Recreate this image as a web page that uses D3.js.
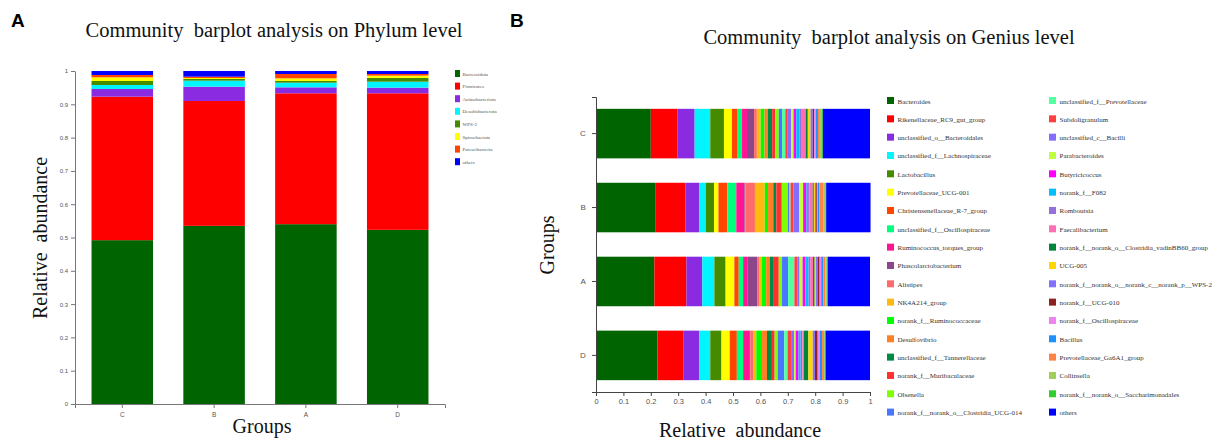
<!DOCTYPE html>
<meta charset="utf-8">
<style>
    body { margin: 0; background: #fff; }
    svg text { fill: #333; white-space: pre; }
    .serif { font-family: "Liberation Serif", "Times New Roman", serif; }
    .tick text { font-family: "Liberation Sans", Arial, sans-serif; fill: #555; }
</style>
<body>
<svg id="chart" width="1224" height="441"></svg>

<script src="https://cdn.jsdelivr.net/npm/d3@7/dist/d3.min.js"></script>
<script>
    // ---- panel A: phylum level ----
    var phylumGroups = ["C", "B", "A", "D"];
    var phylumNames = ["Bacteroidota", "Firmicutes", "Actinobacteriota", "Desulfobacterota",
        "WPS-2", "Spirochaetota", "Patescibacteria", "others"];
    var phylumC = [0.492, 0.431, 0.023, 0.012, 0.012, 0.011, 0.007, 0.012];
    var phylumB = [0.535, 0.375, 0.043, 0.018, 0.005, 0.003, 0.004, 0.017];
    var phylumA = [0.540, 0.393, 0.018, 0.014, 0.005, 0.008, 0.013, 0.009];
    var phylumD = [0.523, 0.410, 0.017, 0.018, 0.011, 0.007, 0.005, 0.009];
    var phylumColors = ["#006400", "#ff0000", "#8a2be2", "#00f5ff", "#458b00", "#ffff00", "#ff4500", "#0000ff"];

    // ---- panel B: genus level ----
    var genusGroups = ["C", "B", "A", "D"];
    var genusNames = [
        "Bacteroides", "Rikenellaceae_RC9_gut_group", "unclassified_o__Bacteroidales",
        "unclassified_f__Lachnospiraceae", "Lactobacillus", "Prevotellaceae_UCG-001",
        "Christensenellaceae_R-7_group", "unclassified_f__Oscillospiraceae", "Ruminococcus_torques_group",
        "Phascolarctobacterium", "Alistipes", "NK4A214_group", "norank_f__Ruminococcaceae",
        "Desulfovibrio", "unclassified_f__Tannerellaceae", "norank_f__Muribaculaceae", "Olsenella",
        "norank_f__norank_o__Clostridia_UCG-014",
        "unclassified_f__Prevotellaceae", "Subdoligranulum", "unclassified_c__Bacilli", "Parabacteroides",
        "Butyricicoccus", "norank_f__F082", "Romboutsia", "Faecalibacterium",
        "norank_f__norank_o__Clostridia_vadinBB60_group", "UCG-005",
        "norank_f__norank_o__norank_c__norank_p__WPS-2", "norank_f__UCG-010", "norank_f__Oscillospiraceae",
        "Bacillus", "Prevotellaceae_Ga6A1_group", "Collinsella", "norank_f__norank_o__Saccharimonadales",
        "others"];
    var genusC = [0.200, 0.098, 0.062, 0.057, 0.050, 0.029, 0.021, 0.016, 0.018, 0.026,
        0.010, 0.014, 0.014, 0.012, 0.016, 0.011, 0.013, 0.012,
        0.012, 0.009, 0.012, 0.009, 0.010, 0.012, 0.008, 0.014, 0.008, 0.010,
        0.008, 0.005, 0.007, 0.007, 0.007, 0.006, 0.005, 0.172];
    var genusB = [0.218, 0.108, 0.051, 0.024, 0.030, 0.016, 0.032, 0.033, 0.030, 0.003,
        0.035, 0.036, 0.012, 0.019, 0.011, 0.020, 0.022, 0.006,
        0.004, 0.010, 0.022, 0.014, 0.012, 0.006, 0.005, 0.012, 0.004, 0.004,
        0.003, 0.004, 0.004, 0.005, 0.014, 0.008, 0.003, 0.162];
    var genusA = [0.213, 0.117, 0.058, 0.044, 0.041, 0.032, 0.016, 0.016, 0.017, 0.034,
        0.009, 0.007, 0.017, 0.013, 0.015, 0.018, 0.012, 0.022,
        0.023, 0.012, 0.007, 0.011, 0.010, 0.012, 0.006, 0.010, 0.006, 0.005,
        0.007, 0.006, 0.006, 0.008, 0.007, 0.005, 0.004, 0.154];
    var genusD = [0.224, 0.096, 0.057, 0.040, 0.041, 0.030, 0.026, 0.023, 0.022, 0.004,
        0.012, 0.010, 0.021, 0.018, 0.018, 0.010, 0.011, 0.024,
        0.012, 0.013, 0.011, 0.006, 0.010, 0.008, 0.006, 0.006, 0.016, 0.016,
        0.008, 0.010, 0.008, 0.008, 0.007, 0.003, 0.003, 0.162];
    var genusColors = ["#006400", "#ff0000", "#8a2be2", "#00f5ff", "#458b00", "#ffff00", "#ff4500", "#00ff7f",
        "#ff1493", "#8b4789", "#ff6a6a", "#ffb90f", "#00ff00", "#ff7f24", "#008b45", "#ff3030", "#7fff00",
        "#4876ff", "#54ff9f", "#ff4040", "#836fff", "#c0ff3e", "#ff00ff", "#00bfff", "#9370db", "#ff6eb4",
        "#00843c", "#ffd700", "#8470ff", "#8b2323", "#ee82ee", "#1e90ff", "#ff8247", "#a2cd5a", "#32cd32",
        "#0000ff"];

    function toRows(groups, names, lists) {
        return groups.map(function (g, i) {
            var row = { group: g };
            names.forEach(function (n, j) { row[n] = lists[i][j]; });
            return row;
        });
    }

    var svg = d3.select("#chart");

    // ================= panel A =================
    var rowsA = toRows(phylumGroups, phylumNames, [phylumC, phylumB, phylumA, phylumD]);
    var stackA = d3.stack().keys(phylumNames)(rowsA);
    var colorA = d3.scaleOrdinal().domain(phylumNames).range(phylumColors);

    var xA = d3.scaleBand().domain(phylumGroups).range([75, 445]).paddingInner(0.33).paddingOuter(0.18);
    var yA = d3.scaleLinear().domain([0, 1]).range([404, 71]);

    svg.append("text").attr("x", 11).attr("y", 27)
        .style("font", "bold 19px 'Liberation Sans', Arial, sans-serif").style("fill", "#000").text("A");
    svg.append("text").attr("class", "serif").attr("x", 274).attr("y", 37)
        .attr("text-anchor", "middle").style("font-size", "20.5px").style("fill", "#111")
        .text("Community  barplot analysis on Phylum level");

    svg.append("g").selectAll("g")
        .data(stackA).enter().append("g")
        .attr("fill", function (d) { return colorA(d.key); })
        .selectAll("rect")
        .data(function (d) { return d; })
        .enter().append("rect")
        .attr("x", function (d) { return xA(d.data.group); })
        .attr("width", xA.bandwidth())
        .attr("y", function (d) { return yA(d[1]); })
        .attr("height", function (d) { return yA(d[0]) - yA(d[1]); });

    var yAxisA = svg.append("g").attr("transform", "translate(75,0)")
        .call(d3.axisLeft(yA).tickValues(d3.range(0, 1.01, 0.1)).tickSize(4).tickSizeOuter(0)
            .tickFormat(function (d) { return d === 0 || d === 1 ? d3.format("d")(d) : d3.format(".1f")(d); }));
    yAxisA.selectAll("text").style("font-size", "6px");
    var xAxisA = svg.append("g").attr("transform", "translate(0,404)")
        .call(d3.axisBottom(xA).tickSize(4).tickSizeOuter(4));
    xAxisA.selectAll("text").style("font-size", "6.5px").attr("dy", "0.9em");
    svg.selectAll(".domain, .tick line").attr("stroke", "#777");

    svg.append("text").attr("class", "serif").attr("x", 262).attr("y", 433)
        .attr("text-anchor", "middle").style("font-size", "20px").style("fill", "#111").text("Groups");
    svg.append("text").attr("class", "serif")
        .attr("transform", "translate(47,238) rotate(-90)")
        .attr("text-anchor", "middle").style("font-size", "20px").style("fill", "#111").text("Relative  abundance");

    var legA = svg.append("g").selectAll("g")
        .data(phylumNames).enter().append("g")
        .attr("transform", function (d, i) { return "translate(455," + (70 + i * 12.6) + ")"; });
    legA.append("rect").attr("width", 5).attr("height", 7)
        .attr("fill", function (d) { return colorA(d); });
    legA.append("text").attr("class", "serif").attr("x", 7.5).attr("y", 5.5)
        .style("font-size", "5px").style("fill", "#555").text(function (d) { return d; });

    // ================= panel B =================
    var rowsB = toRows(genusGroups, genusNames, [genusC, genusB, genusA, genusD]);
    var stackB = d3.stack().keys(genusNames)(rowsB);
    var colorB = d3.scaleOrdinal().domain(genusNames).range(genusColors);

    var xB = d3.scaleLinear().domain([0, 1]).range([596, 870]);
    var yB = d3.scaleBand().domain(genusGroups).range([97, 392]).paddingInner(0.33).paddingOuter(0.16);

    svg.append("text").attr("x", 510).attr("y", 27)
        .style("font", "bold 19px 'Liberation Sans', Arial, sans-serif").style("fill", "#000").text("B");
    svg.append("text").attr("class", "serif").attr("x", 889).attr("y", 44)
        .attr("text-anchor", "middle").style("font-size", "20.5px").style("fill", "#111")
        .text("Community  barplot analysis on Genius level");

    svg.append("g").selectAll("g")
        .data(stackB).enter().append("g")
        .attr("fill", function (d) { return colorB(d.key); })
        .selectAll("rect")
        .data(function (d) { return d; })
        .enter().append("rect")
        .attr("y", function (d) { return yB(d.data.group); })
        .attr("height", yB.bandwidth())
        .attr("x", function (d) { return xB(d[0]); })
        .attr("width", function (d) { return xB(d[1]) - xB(d[0]); });

    var xAxisB = svg.append("g").attr("transform", "translate(0,392)")
        .call(d3.axisBottom(xB).ticks(10).tickSize(4).tickSizeOuter(0)
            .tickFormat(function (d) { return d === 0 || d === 1 ? d : d3.format(".1f")(d); }));
    xAxisB.selectAll("text").style("font-size", "7.5px");
    var yAxisB = svg.append("g").attr("transform", "translate(596,0)")
        .call(d3.axisLeft(yB).tickSize(4).tickSizeOuter(4));
    yAxisB.selectAll("text").style("font-size", "8px").attr("dx", "-0.4em");
    xAxisB.selectAll(".domain, .tick line").attr("stroke", "#444");
    yAxisB.selectAll(".domain, .tick line").attr("stroke", "#444");

    svg.append("text").attr("class", "serif").attr("x", 740).attr("y", 437)
        .attr("text-anchor", "middle").style("font-size", "20px").style("fill", "#111").text("Relative  abundance");
    svg.append("text").attr("class", "serif")
        .attr("transform", "translate(554,245) rotate(-90)")
        .attr("text-anchor", "middle").style("font-size", "20px").style("fill", "#111").text("Groups");

    var legB = svg.append("g").selectAll("g")
        .data(genusNames).enter().append("g")
        .attr("transform", function (d, i) {
            var col = i < 18 ? 0 : 1, row = i % 18;
            return "translate(" + (col ? 1049 : 887) + "," + (97 + row * 18.33) + ")";
        });
    legB.append("rect").attr("width", 7).attr("height", 7)
        .attr("fill", function (d) { return colorB(d); });
    legB.append("text").attr("class", "serif").attr("x", 10.5).attr("y", 6.5)
        .style("font-size", "7px").style("fill", "#333").text(function (d) { return d; });
</script>
</body>
